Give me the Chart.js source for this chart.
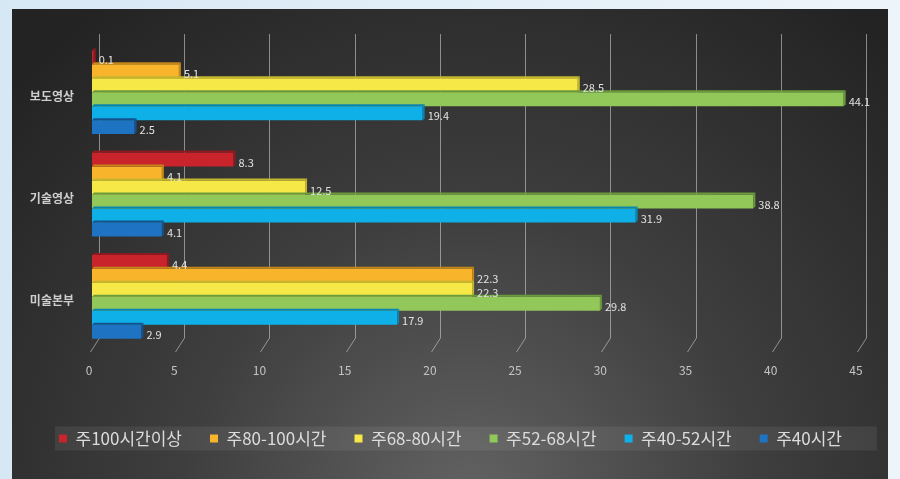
<!DOCTYPE html>
<html><head><meta charset="utf-8">
<script src="https://cdn.jsdelivr.net/npm/chart.js@4"></script>
<style>html,body{margin:0;padding:0;background:#e6f0f8;overflow:hidden}#wrap{width:900px;height:479px;position:relative}</style>
</head><body><div id="wrap"><canvas id="c" width="900" height="479"></canvas></div>
<script>
const categories = ['보도영상', '기술영상', '미술본부'];
const seriesNames = ['주100시간이상', '주80-100시간', '주68-80시간', '주52-68시간', '주40-52시간', '주40시간'];
const over100 = [0.1, 8.3, 4.4];
const h80to100 = [5.1, 4.1, 22.3];
const h68to80 = [28.5, 12.5, 22.3];
const h52to68 = [44.1, 38.8, 29.8];
const h40to52 = [19.4, 31.9, 17.9];
const h40 = [2.5, 4.1, 2.9];
const xTicks = [0, 5, 10, 15, 20, 25, 30, 35, 40, 45];

const seriesValues = [over100, h80to100, h68to80, h52to68, h40to52, h40];
const colors = ['#c9232b', '#f8b52c', '#f6e947', '#92c85a', '#0fb0e8', '#1e73c2'];
const topColors = ['#8e1a1f', '#c4871a', '#c4b72e', '#6a9a3c', '#0a84b0', '#15528c'];
const FONT = "'Noto Sans CJK KR', 'Noto Sans', sans-serif";

const legendShift = {
  id: 'legendShift',
  afterLayout(chart) {
    const lg = chart.legend;
    if (!lg) return;
    const w = lg.right - lg.left;
    lg.left = 31;
    lg.right = 31 + w;
  }
};

const bgPlugin = {
  id: 'bg',
  beforeDraw(chart) {
    const ctx = chart.ctx;
    ctx.save();
    let g = ctx.createLinearGradient(0, 0, 900, 0);
    g.addColorStop(0, '#d7e8f5');
    g.addColorStop(1, '#eef5fa');
    ctx.fillStyle = g;
    ctx.fillRect(0, 0, 900, 479);
    const rg = ctx.createRadialGradient(470, 500, 20, 470, 500, 620);
    rg.addColorStop(0, '#606060');
    rg.addColorStop(0.45, '#3e3e3e');
    rg.addColorStop(1, '#232323');
    ctx.fillStyle = rg;
    ctx.fillRect(12, 9, 876, 470);
    const lg = chart.legend;
    if (lg && lg.legendHitBoxes && lg.legendHitBoxes.length) {
      const hb = lg.legendHitBoxes;
      const first = hb[0], last = hb[hb.length - 1];
      const cy = first.top + first.height / 2;
      ctx.fillStyle = 'rgba(255,255,255,0.07)';
      ctx.fillRect(first.left - 4, cy - 12, (last.left + last.width + 35) - (first.left - 4), 24);
    }
    ctx.restore();
  }
};

const gridPlugin = {
  id: 'grid3d',
  beforeDatasetsDraw(chart) {
    const ctx = chart.ctx, xs = chart.scales.x;
    ctx.save();
    ctx.strokeStyle = 'rgba(205,205,205,0.6)';
    ctx.lineWidth = 1;
    xTicks.forEach(v => {
      const x = Math.round(xs.getPixelForValue(v) + 7) + 0.5;
      ctx.beginPath();
      ctx.moveTo(x, 34);
      ctx.lineTo(x, 338);
      ctx.lineTo(x - 9, 352);
      ctx.stroke();
    });
    ctx.restore();
  }
};

const barPlugin = {
  id: 'bar3d',
  afterDatasetsDraw(chart) {
    const ctx = chart.ctx;
    const d = 2;
    ctx.save();
    chart.data.datasets.forEach((ds, i) => {
      const meta = chart.getDatasetMeta(i);
      meta.data.forEach((el, j) => {
        const x = el.x, b = el.base, h = el.height;
        const top = el.y - h / 2, bot = el.y + h / 2;
        ctx.fillStyle = topColors[i];
        ctx.beginPath();
        ctx.moveTo(b, top); ctx.lineTo(x, top); ctx.lineTo(x + d, top - d); ctx.lineTo(b + d, top - d); ctx.closePath();
        ctx.fill();
        ctx.beginPath();
        ctx.moveTo(x, top); ctx.lineTo(x + d, top - d); ctx.lineTo(x + d, bot - d); ctx.lineTo(x, bot); ctx.closePath();
        ctx.fill();
      });
    });
    ctx.font = "11px " + FONT;
    ctx.fillStyle = '#e2e2e2';
    ctx.textBaseline = 'middle';
    ctx.textAlign = 'left';
    chart.data.datasets.forEach((ds, i) => {
      const meta = chart.getDatasetMeta(i);
      meta.data.forEach((el, j) => {
        ctx.fillText(String(ds.data[j]), el.x + 5, el.y + 3);
      });
    });
    ctx.restore();
  }
};

new Chart(document.getElementById('c'), {
  type: 'bar',
  data: {
    labels: categories,
    datasets: seriesNames.map((n, i) => ({
      label: n,
      data: seriesValues[i],
      backgroundColor: colors[i],
      borderWidth: 0,
      categoryPercentage: 0.82,
      barPercentage: 1.0
    }))
  },
  options: {
    indexAxis: 'y',
    responsive: false,
    animation: false,
    devicePixelRatio: 1,
    layout: { padding: { left: 0, right: 41, top: 41, bottom: 22 } },
    scales: {
      x: {
        min: 0, max: 45,
        afterBuildTicks: s => { s.ticks = xTicks.map(v => ({ value: v })); },
        ticks: { color: '#c4c4c4', font: { family: FONT, size: 12 }, padding: 15, labelOffset: -3 },
        grid: { display: false, drawTicks: false },
        border: { display: false },
        afterFit: s => { s.height = 54; }
      },
      y: {
        ticks: { color: '#cfcfcf', font: { family: FONT, size: 12, weight: 'bold' }, padding: 18, labelOffset: 4 },
        grid: { display: false, drawTicks: false },
        border: { display: false },
        afterFit: s => { s.width = 92; }
      }
    },
    plugins: {
      legend: {
        position: 'bottom',
        align: 'start',
        labels: { color: '#dcdcdc', font: { family: FONT, size: 17 }, boxWidth: 8, boxHeight: 8, padding: 28 }
      },
      tooltip: { enabled: false }
    }
  },
  plugins: [legendShift, bgPlugin, gridPlugin, barPlugin]
});
</script>
</body></html>
